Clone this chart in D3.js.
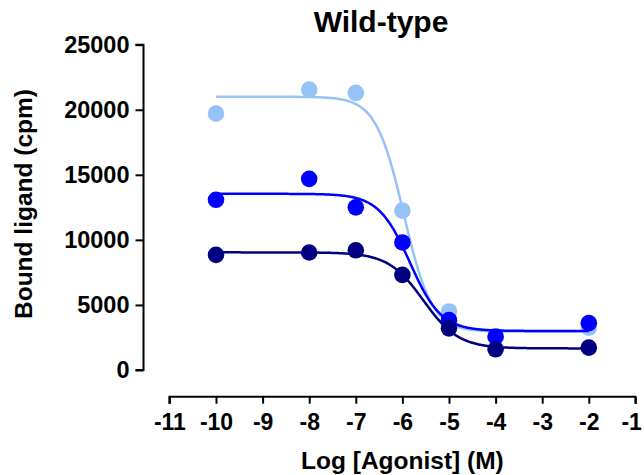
<!DOCTYPE html>
<html><head><meta charset="utf-8">
<script src="https://cdn.jsdelivr.net/npm/d3@7"></script>
<style>html,body{margin:0;padding:0;background:#fff;}svg{display:block;font-family:"Liberation Sans",Arial,sans-serif;font-weight:bold;}</style>
</head><body>
<svg id="c" width="644" height="475"></svg>
<script>
// ---- data ----
const logAgonist = [-10, -8, -7, -6, -5, -4, -2];
const seriesNames = ["light", "mid", "dark"];
const seriesColors = ["#96c3f7", "#0000ff", "#000080"];
const lightValues = [19700, 21550, 21300, 12250, 4500, 2600, 3250];
const midValues   = [13080, 14690, 12500, 9800, 3830, 2560, 3600];
const darkValues  = [8850, 9030, 9200, 7310, 3200, 1590, 1720];
// fitted sigmoid parameters: [bottom, top, logEC50, hill]
const lightFit = [2950, 21000, -5.97, 1.45];
const midFit   = [3000, 13540, -5.84, 1.30];
const darkFit  = [1660, 9040, -5.55, 1.15];
const xTicks = [-11, -10, -9, -8, -7, -6, -5, -4, -3, -2, -1];
const yTicks = [0, 5000, 10000, 15000, 20000, 25000];

const svg = d3.select("#c");
const x = d3.scaleLinear().domain([-11, -1]).range([169.4, 635.4]);
const y = d3.scaleLinear().domain([0, 25000]).range([370, 44.7]);
const FONT = "Liberation Sans, Arial, sans-serif";

// title
svg.append("text").attr("x", 381).attr("y", 32).attr("text-anchor", "middle")
  .attr("font-size", 30).text("Wild-type");

// y axis
const yAxis = d3.axisLeft(y).tickValues(yTicks).tickSize(8).tickPadding(6).tickFormat(d3.format("d"));
const gy = svg.append("g").attr("transform", "translate(143.5,0)").call(yAxis);
gy.select(".domain").attr("stroke", "#000").attr("stroke-width", 2).attr("d", `M-8,${y(25000)}H0V${y(0)}H-8`);
gy.selectAll(".tick line").attr("stroke", "#000").attr("stroke-width", 2);
gy.selectAll(".tick text").attr("font-size", 23.5).attr("font-family", FONT).attr("font-weight", "bold").attr("fill", "#000");

// x axis
const xAxis = d3.axisBottom(x).tickValues(xTicks).tickSize(7).tickPadding(10).tickFormat(d3.format("d"));
const gx = svg.append("g").attr("transform", "translate(0,396.7)").call(xAxis);
gx.select(".domain").attr("stroke", "#000").attr("stroke-width", 2).attr("d", `M${x(-11)},7V0H${x(-1)}V7`);
gx.selectAll(".tick line").attr("stroke", "#000").attr("stroke-width", 2);
gx.selectAll(".tick text").attr("font-size", 23).attr("font-family", FONT).attr("font-weight", "bold").attr("fill", "#000")
  .text(d => d < 0 ? "-" + Math.abs(d) : d)
  .filter(d => d === -1).attr("text-anchor", "end").attr("x", 6);

// axis titles
svg.append("text").attr("x", 402.4).attr("y", 468.5).attr("text-anchor", "middle").attr("font-size", 24.5).text("Log [Agonist] (M)");
svg.append("text").attr("transform", "translate(32,204) rotate(-90)").attr("text-anchor", "middle").attr("font-size", 24.5).text("Bound ligand (cpm)");

// series
const allValues = [lightValues, midValues, darkValues];
const allFits = [lightFit, midFit, darkFit];
const sig = (p, v) => p[0] + (p[1] - p[0]) / (1 + Math.pow(10, (v - p[2]) * p[3]));
const xs = d3.range(-10, -2 + 1e-9, 0.02);
const line = d3.line().x(d => x(d[0])).y(d => y(d[1]));

seriesNames.forEach((name, i) => {
  const g = svg.append("g").attr("class", name);
  g.append("path").datum(xs.map(v => [v, sig(allFits[i], v)]))
    .attr("d", line).attr("fill", "none").attr("stroke", seriesColors[i]).attr("stroke-width", 2.5);
  g.selectAll("circle").data(logAgonist.map((v, j) => [v, allValues[i][j]])).join("circle")
    .attr("cx", d => x(d[0])).attr("cy", d => y(d[1])).attr("r", 8.3).attr("fill", seriesColors[i]);
});
</script>
</body></html>
